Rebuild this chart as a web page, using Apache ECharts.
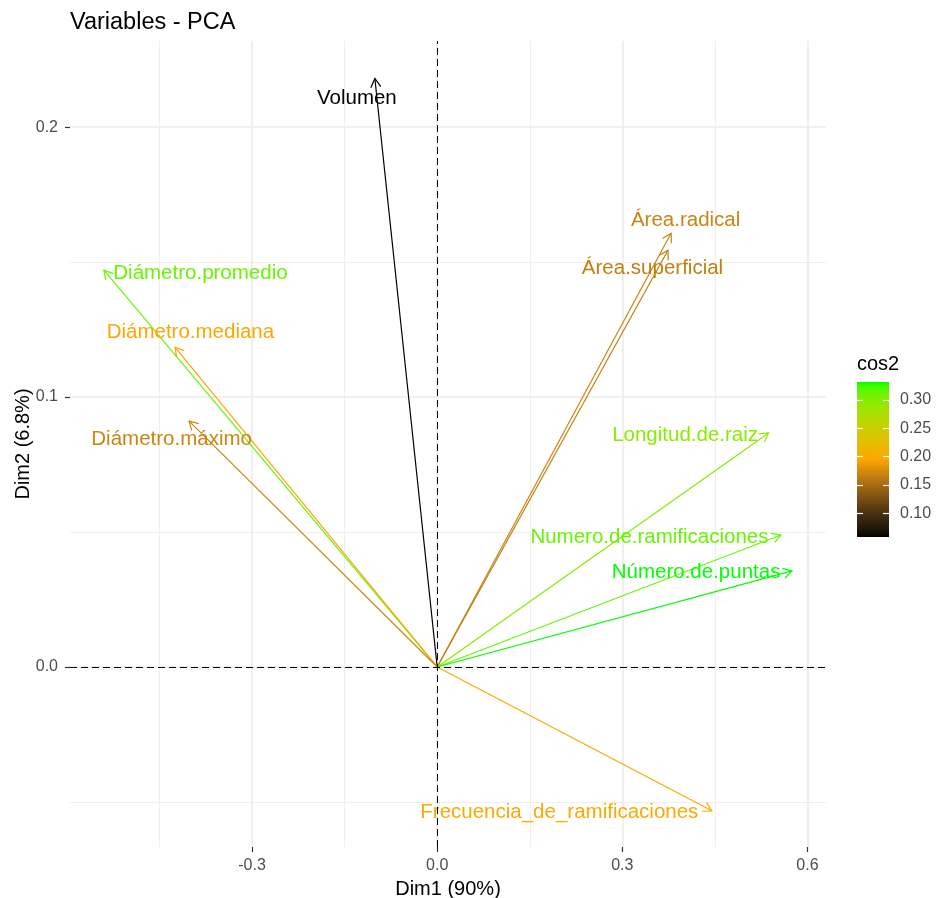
<!DOCTYPE html>
<html><head><meta charset="utf-8">
<script src="https://cdn.jsdelivr.net/npm/echarts@6/dist/echarts.min.js"></script>
<style>html,body{margin:0;padding:0;background:#fff}#chart{width:936px;height:898px}</style>
</head><body><div id="chart"></div>
<script>
// ---------- data ----------
const variables = ['Volumen','Área.radical','Área.superficial','Diámetro.promedio','Diámetro.mediana','Diámetro.máximo','Longitud.de.raiz','Numero.de.ramificaciones','Número.de.puntas','Frecuencia_de_ramificaciones'];
const dim1 = [-0.101, 0.379, 0.374, -0.540, -0.425, -0.402, 0.537, 0.557, 0.575, 0.445];
const dim2 = [0.218, 0.1607, 0.1544, 0.147, 0.1185, 0.0911, 0.0867, 0.0489, 0.0356, -0.0533];
const cos2 = [0.0577, 0.169, 0.164, 0.313, 0.195, 0.170, 0.296, 0.313, 0.332, 0.201];
const xTicks = [-0.3, 0, 0.3, 0.6];
const xMinorTicks = [-0.45, -0.15, 0.15, 0.45];
const yTicks = [0, 0.1, 0.2];
const yMinorTicks = [-0.05, 0.05, 0.15];
const legendTicks = [0.10, 0.15, 0.20, 0.25, 0.30];

// ---------- styling ----------
const FONT = '"Liberation Sans", Arial, Helvetica, sans-serif';
const X_MIN = -0.595, X_MAX = 0.630, Y_MIN = -0.0667, Y_MAX = 0.2319;
// pixel offsets of each label centre from its arrow tip (repelled labels)
const labelOffsets = [[-18,19.5],[14.5,-13],[-15.5,18],[96.5,3],[15.5,-15],[-17.5,18],[-83.5,2],[-131.5,2],[-96,1],[-152.5,2]];
const gradientAnchors = ['#000000', '#FFA500', '#00FF00'];

// Lab interpolation of the gradient (as ggplot does)
function toLin(c){c/=255;return c<=0.04045?c/12.92:Math.pow((c+0.055)/1.055,2.4);}
function fromLin(c){c=Math.min(1,Math.max(0,c));const v=c<=0.0031308?12.92*c:1.055*Math.pow(c,1/2.4)-0.055;return Math.round(v*255);}
const WX=0.95047, WY=1, WZ=1.08883;
function fl(t){return t>0.008856?Math.cbrt(t):7.787*t+16/116;}
function finv(t){return t>0.206893?t*t*t:(t-16/116)/7.787;}
function hexToLab(h){
  const [r,g,b]=[h.slice(1,3),h.slice(3,5),h.slice(5,7)].map(s=>toLin(parseInt(s,16)));
  const X=(0.4124*r+0.3576*g+0.1805*b)/WX, Y=(0.2126*r+0.7152*g+0.0722*b)/WY, Z=(0.0193*r+0.1192*g+0.9505*b)/WZ;
  const fx=fl(X),fy=fl(Y),fz=fl(Z);
  return [116*fy-16, 500*(fx-fy), 200*(fy-fz)];
}
function labToHex(lab){
  const fy=(lab[0]+16)/116, fx=fy+lab[1]/500, fz=fy-lab[2]/200;
  const X=WX*finv(fx), Y=WY*finv(fy), Z=WZ*finv(fz);
  const r=3.2406*X-1.5372*Y-0.4986*Z, g=-0.9689*X+1.8758*Y+0.0415*Z, b=0.0557*X-0.2040*Y+1.0570*Z;
  return '#'+[r,g,b].map(c=>fromLin(c).toString(16).padStart(2,'0')).join('');
}
const palette = (function(){
  const labs = gradientAnchors.map(hexToLab), out = [], N = 40;
  for (let k=0;k<=N;k++){
    const t = k/N*(labs.length-1); const s = Math.min(Math.floor(t), labs.length-2); const u = t-s;
    out.push(labToHex([0,1,2].map(j=>labs[s][j]*(1-u)+labs[s+1][j]*u)));
  }
  return out;
})();

const cosMin = Math.min(...cos2), cosMax = Math.max(...cos2);
const arrowData = variables.map((n,i)=>[dim1[i], dim2[i], cos2[i], i]);

function renderArrow(params, api){
  const o = api.coord([0,0]);
  const p = api.coord([api.value(0), api.value(1)]);
  const color = api.visual('color');
  const ang = Math.atan2(p[1]-o[1], p[0]-o[0]);
  const L = 10, a = Math.PI/6;
  const h1 = [p[0]-L*Math.cos(ang-a), p[1]-L*Math.sin(ang-a)];
  const h2 = [p[0]-L*Math.cos(ang+a), p[1]-L*Math.sin(ang+a)];
  return {type:'group', children:[
    {type:'line', shape:{x1:o[0],y1:o[1],x2:p[0],y2:p[1]}, style:{stroke:color, lineWidth:1.2}},
    {type:'polyline', shape:{points:[h1,p,h2]}, style:{stroke:color, lineWidth:1.2, fill:null}}
  ]};
}
function renderLabel(params, api){
  const i = api.value(3);
  const p = api.coord([api.value(0), api.value(1)]);
  const off = labelOffsets[i];
  return {type:'text', x:p[0]+off[0], y:p[1]+off[1],
    style:{text:variables[i], fill:api.visual('color'), fontSize:20.5, fontFamily:FONT, align:'center', verticalAlign:'middle'}};
}
function renderBar(params, api){
  const p0 = api.coord([0, api.value(1)]);
  const p1 = api.coord([1, api.value(0)]);
  return {type:'rect', shape:{x:p0[0], y:p0[1], width:p1[0]-p0[0], height:p1[1]-p0[1]},
    style:{fill:new echarts.graphic.LinearGradient(0,1,0,0, palette.map((c,k)=>({offset:k/(palette.length-1), color:c})))}};
}

const tickLabel = {color:'#4D4D4D', fontSize:16, fontFamily:FONT};
const nameStyle = {color:'#000', fontSize:20, fontFamily:FONT};
const majorGrid = {show:true, lineStyle:{color:'#EBEBEB', width:1.6}};
const minorGrid = {show:true, lineStyle:{color:'#EFEFEF', width:1}};
const noLine = {show:false, onZero:false};

const option = {
  animation:false,
  backgroundColor:'#fff',
  title:[
    {text:'Variables - PCA', left:70, top:11, padding:0, textStyle:{fontFamily:FONT, fontSize:23.5, fontWeight:'normal', color:'#000'}},
    {text:'cos2', left:857, top:354, padding:0, textStyle:{fontFamily:FONT, fontSize:20, fontWeight:'normal', color:'#000'}}
  ],
  grid:[
    {left:70, right:110, top:41, bottom:51, containLabel:false, outerBoundsMode:'none'},
    {left:857, width:32, top:382, height:155, containLabel:false, outerBoundsMode:'none'}
  ],
  visualMap:{type:'continuous', show:false, min:cosMin, max:cosMax, dimension:2, seriesIndex:[1,2], inRange:{color:palette}},
  xAxis:[
    {type:'value', gridIndex:0, min:X_MIN, max:X_MAX, name:'Dim1 (90%)', nameLocation:'middle', nameGap:32, nameMoveOverlap:false, nameTextStyle:nameStyle,
      axisLine:noLine, axisTick:{show:true, customValues:xTicks, length:5, lineStyle:{color:'#333', width:1.2}},
      axisLabel:{customValues:xTicks, formatter:v=>v.toFixed(1), margin:11, ...tickLabel}, splitLine:majorGrid},
    {type:'value', gridIndex:0, min:X_MIN, max:X_MAX, axisLine:noLine, axisTick:{show:false, customValues:xMinorTicks},
      axisLabel:{show:false}, splitLine:minorGrid},
    {type:'value', gridIndex:1, min:0, max:1, show:false, axisLine:noLine}
  ],
  yAxis:[
    {type:'value', gridIndex:0, min:Y_MIN, max:Y_MAX, name:'Dim2 (6.8%)', nameLocation:'middle', nameGap:37, nameMoveOverlap:false, nameTextStyle:nameStyle,
      axisLine:noLine, axisTick:{show:true, customValues:yTicks, length:5, lineStyle:{color:'#333', width:1.2}},
      axisLabel:{customValues:yTicks, formatter:v=>v.toFixed(1), margin:12, ...tickLabel}, splitLine:majorGrid},
    {type:'value', gridIndex:0, min:Y_MIN, max:Y_MAX, axisLine:noLine, axisTick:{show:false, customValues:yMinorTicks},
      axisLabel:{show:false}, splitLine:minorGrid},
    {type:'value', gridIndex:1, min:cosMin, max:cosMax, position:'right', z:10, axisLine:noLine,
      axisTick:{show:true, inside:true, length:6, customValues:legendTicks, lineStyle:{color:'#fff', width:1.2}},
      axisLabel:{customValues:legendTicks, formatter:v=>v.toFixed(2), margin:11, ...tickLabel}, splitLine:{show:false}},
    {type:'value', gridIndex:1, min:cosMin, max:cosMax, position:'left', z:10, axisLine:noLine,
      axisTick:{show:true, inside:true, length:6, customValues:legendTicks, lineStyle:{color:'#fff', width:1.2}},
      axisLabel:{show:false}, splitLine:{show:false}}
  ],
  series:[
    {type:'line', xAxisIndex:0, yAxisIndex:0, data:[], symbol:'none', silent:true, z:1,
      markLine:{silent:true, symbol:['none','none'], label:{show:false}, animation:false,
        lineStyle:{color:'#000', type:[7,4], width:1}, data:[{xAxis:0},{yAxis:0}]}},
    {type:'custom', xAxisIndex:0, yAxisIndex:0, data:arrowData, encode:{x:0, y:1}, renderItem:renderArrow, z:3, silent:true},
    {type:'custom', xAxisIndex:0, yAxisIndex:0, data:arrowData, encode:{x:0, y:1}, renderItem:renderLabel, z:4, silent:true},
    {type:'custom', xAxisIndex:2, yAxisIndex:2, data:[[cosMin, cosMax]], renderItem:renderBar, z:1, silent:true}
  ]
};
const chart = echarts.init(document.getElementById('chart'), null, {renderer:'canvas'});
chart.setOption(option);
</script>
</body></html>
